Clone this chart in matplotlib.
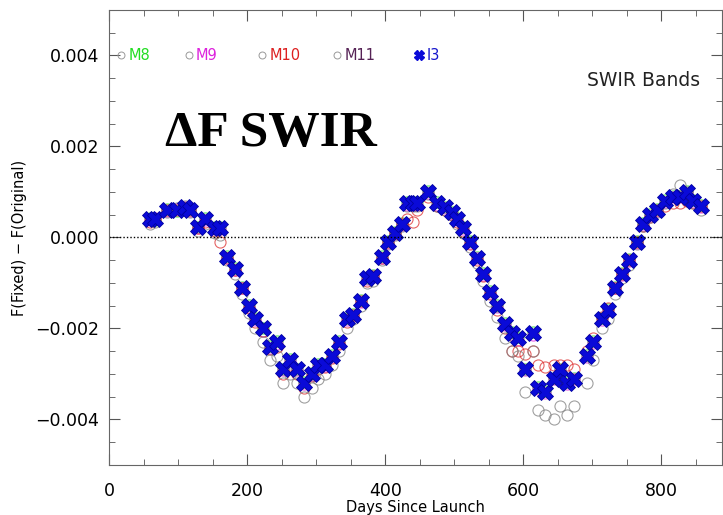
import numpy as np
import matplotlib
matplotlib.use("Agg")
import matplotlib.pyplot as plt
from matplotlib.ticker import MultipleLocator, FuncFormatter

# Days since launch (shared sampling for all bands)
days = [
    59, 67, 84, 98, 110, 117, 129, 139, 154, 161,
    171, 183, 193, 203, 212, 223, 233, 243, 252, 262,
    272, 283, 294, 303, 313, 323, 333, 345, 354, 365,
    374, 383, 396, 404, 414, 425, 432, 440, 446, 462,
    475, 487, 497, 504, 513, 523, 533, 542, 552, 562,
    574, 584, 593, 603, 614, 622, 632, 644, 654, 664,
    674, 693, 701, 714, 723, 733, 743, 754, 765, 774,
    784, 794, 806, 817, 827, 837, 846, 857,
]

m8 = [
    0.00042, 0.00038, 0.00062, 0.00058, 0.00064, 0.00062, 0.00024, 0.00042, 0.00022, 0.00022,
    -0.00040, -0.00068, -0.00108, -0.00148, -0.00178, -0.00198, -0.00238, -0.00228, -0.00288, -0.00268,
    -0.00288, -0.00318, -0.00298, -0.00278, -0.00278, -0.00258, -0.00228, -0.00178, -0.00168, -0.00138,
    -0.00088, -0.00082, -0.00040, -0.00008, 0.00012, 0.00032, 0.00077, 0.00077, 0.00077, 0.00102,
    0.00077, 0.00068, 0.00057, 0.00042, 0.00022, -0.00008, -0.00042, -0.00078, -0.00118, -0.00148,
    -0.00188, -0.00208, -0.00218, -0.00288, -0.00208, -0.00328, -0.00338, -0.00308, -0.00288, -0.00318,
    -0.00308, -0.00258, -0.00228, -0.00178, -0.00158, -0.00108, -0.00078, -0.00048, -0.00008, 0.00032,
    0.00052, 0.00062, 0.00082, 0.00092, 0.00092, 0.00102, 0.00082, 0.00072,
]

m9 = [
    0.00038, 0.00042, 0.00058, 0.00062, 0.00066, 0.00058, 0.00020, 0.00038, 0.00018, 0.00018,
    -0.00044, -0.00072, -0.00112, -0.00152, -0.00182, -0.00205, -0.00242, -0.00235, -0.00292, -0.00272,
    -0.00292, -0.00322, -0.00302, -0.00282, -0.00282, -0.00262, -0.00232, -0.00182, -0.00172, -0.00142,
    -0.00092, -0.00086, -0.00044, -0.00012, 0.00008, 0.00028, 0.00072, 0.00072, 0.00072, 0.00098,
    0.00072, 0.00064, 0.00052, 0.00038, 0.00018, -0.00012, -0.00046, -0.00082, -0.00122, -0.00152,
    -0.00192, -0.00215, -0.00225, -0.00292, -0.00215, -0.00332, -0.00342, -0.00312, -0.00292, -0.00322,
    -0.00312, -0.00262, -0.00232, -0.00182, -0.00162, -0.00112, -0.00082, -0.00052, -0.00012, 0.00028,
    0.00048, 0.00058, 0.00078, 0.00088, 0.00088, 0.00098, 0.00078, 0.00068,
]

m10 = [
    0.00035, 0.00040, 0.00060, 0.00060, 0.00065, 0.00060, 0.00020, 0.00035, 0.00015, -0.00010,
    -0.00045, -0.00072, -0.00112, -0.00155, -0.00185, -0.00205, -0.00245, -0.00240, -0.00300, -0.00280,
    -0.00300, -0.00330, -0.00305, -0.00290, -0.00285, -0.00265, -0.00235, -0.00185, -0.00170, -0.00140,
    -0.00095, -0.00085, -0.00045, -0.00010, 0.00010, 0.00030, 0.00040, 0.00035, 0.00060, 0.00090,
    0.00070, 0.00060, 0.00050, 0.00035, 0.00015, -0.00015, -0.00050, -0.00085, -0.00125, -0.00160,
    -0.00200, -0.00250, -0.00250, -0.00255, -0.00250, -0.00280, -0.00285, -0.00280, -0.00280, -0.00280,
    -0.00290, -0.00250, -0.00220, -0.00175, -0.00155, -0.00110, -0.00080, -0.00050, -0.00010, 0.00025,
    0.00045, 0.00060, 0.00070, 0.00075, 0.00075, 0.00080, 0.00075, 0.00070,
]

m11 = [
    0.00030, 0.00035, 0.00055, 0.00065, 0.00070, 0.00055, 0.00015, 0.00030, 0.00010, 0.00005,
    -0.00050, -0.00080, -0.00125, -0.00165, -0.00200, -0.00230, -0.00270, -0.00260, -0.00320, -0.00300,
    -0.00320, -0.00350, -0.00330, -0.00310, -0.00300, -0.00280, -0.00250, -0.00200, -0.00180, -0.00150,
    -0.00100, -0.00095, -0.00050, -0.00015, 0.00005, 0.00025, 0.00070, 0.00070, 0.00070, 0.00095,
    0.00070, 0.00060, 0.00050, 0.00030, 0.00010, -0.00020, -0.00055, -0.00095, -0.00140, -0.00175,
    -0.00220, -0.00250, -0.00260, -0.00340, -0.00250, -0.00380, -0.00390, -0.00400, -0.00370, -0.00390,
    -0.00370, -0.00320, -0.00270, -0.00200, -0.00180, -0.00125, -0.00090, -0.00060, -0.00015, 0.00025,
    0.00045, 0.00055, 0.00075, 0.00095, 0.00115, 0.00100, 0.00075, 0.00060,
]

i3 = [
    0.00040, 0.00040, 0.00060, 0.00060, 0.00066, 0.00060, 0.00022, 0.00040, 0.00020, 0.00020,
    -0.00042, -0.00070, -0.00110, -0.00150, -0.00180, -0.00200, -0.00240, -0.00230, -0.00290, -0.00270,
    -0.00290, -0.00320, -0.00300, -0.00280, -0.00280, -0.00260, -0.00230, -0.00180, -0.00170, -0.00140,
    -0.00090, -0.00084, -0.00042, -0.00010, 0.00010, 0.00030, 0.00075, 0.00075, 0.00075, 0.00100,
    0.00075, 0.00066, 0.00055, 0.00040, 0.00020, -0.00010, -0.00044, -0.00080, -0.00120, -0.00150,
    -0.00190, -0.00210, -0.00220, -0.00290, -0.00210, -0.00330, -0.00340, -0.00310, -0.00290, -0.00320,
    -0.00310, -0.00260, -0.00230, -0.00180, -0.00160, -0.00110, -0.00080, -0.00050, -0.00010, 0.00030,
    0.00050, 0.00060, 0.00080, 0.00090, 0.00090, 0.00100, 0.00080, 0.00070,
]

band_names = ["M8", "M9", "M10", "M11", "I3"]
band_colors = ["#22dd22", "#dd22dd", "#dd3030", "#808080", "#0a0ad8"]
label_colors = ["#22dd22", "#dd22dd", "#dd2020", "#552255", "#1515cc"]

fig = plt.figure(figsize=(7.23, 5.15), dpi=100)
ax = fig.add_axes([0.1508, 0.0971, 0.8478, 0.8835])

# open circles for the M bands, asterisks for I3
for vals, col in zip([m8, m9, m10, m11], band_colors[:4]):
    ax.plot(days, vals, linestyle="none", marker="o", markersize=8,
            markerfacecolor="none", markeredgecolor=col, markeredgewidth=0.8, alpha=0.75)
ax.plot(days, i3, linestyle="none", marker="X", markersize=11,
        markerfacecolor=band_colors[4], markeredgecolor="#0000a0", markeredgewidth=0.6)

ax.axhline(0, color="black", linestyle=(0, (1, 1.5)), lw=1.0)

ax.set_xlim(0, 888)
ax.set_ylim(-0.005, 0.005)
ax.xaxis.set_major_locator(MultipleLocator(200))
ax.xaxis.set_minor_locator(MultipleLocator(50))
ax.yaxis.set_major_locator(MultipleLocator(0.002))
ax.yaxis.set_minor_locator(MultipleLocator(0.0005))
ax.yaxis.set_major_formatter(FuncFormatter(lambda v, p: f"{v:.3f}".replace("-", "\u2212")))
ax.tick_params(which="both", direction="in", top=True, right=True, colors="#555555",
               labelcolor="black", labelsize=12.5)
ax.tick_params(which="major", length=8, width=0.8)
ax.tick_params(which="minor", length=4, width=0.6)
ax.tick_params(axis="x", pad=12)
ax.tick_params(axis="y", pad=7)
for s in ax.spines.values():
    s.set_color("#666666")
    s.set_linewidth(0.8)

ax.set_xlabel("Days Since Launch", fontsize=10.5, labelpad=0)
ax.set_ylabel("F(Fixed) \u2212 F(Original)", fontsize=10.5, labelpad=6)

# legend row along the top, IDL style
leg_x = [0.02, 0.13, 0.25, 0.372, 0.506]
for name, lx, mcol, tcol in zip(band_names, leg_x, band_colors, label_colors):
    if name == "I3":
        ax.plot([lx], [0.9], transform=ax.transAxes, marker="X", markersize=7,
                color=mcol, linestyle="none", clip_on=False)
    else:
        ax.plot([lx], [0.9], transform=ax.transAxes, marker="o", markersize=5,
                markerfacecolor="none", markeredgecolor="#999999", markeredgewidth=0.7,
                linestyle="none")
    ax.text(lx + 0.012, 0.9, name, transform=ax.transAxes, color=tcol,
            fontsize=10.5, va="center", ha="left")

ax.text(0.965, 0.845, "SWIR Bands", transform=ax.transAxes, fontsize=13.5,
        ha="right", va="center", color="#222222")
ax.text(0.092, 0.727, "\u0394F SWIR", transform=ax.transAxes, fontsize=37,
        fontweight="bold", family="Liberation Serif", ha="left", va="center")

fig.savefig("out.png", dpi=100)
